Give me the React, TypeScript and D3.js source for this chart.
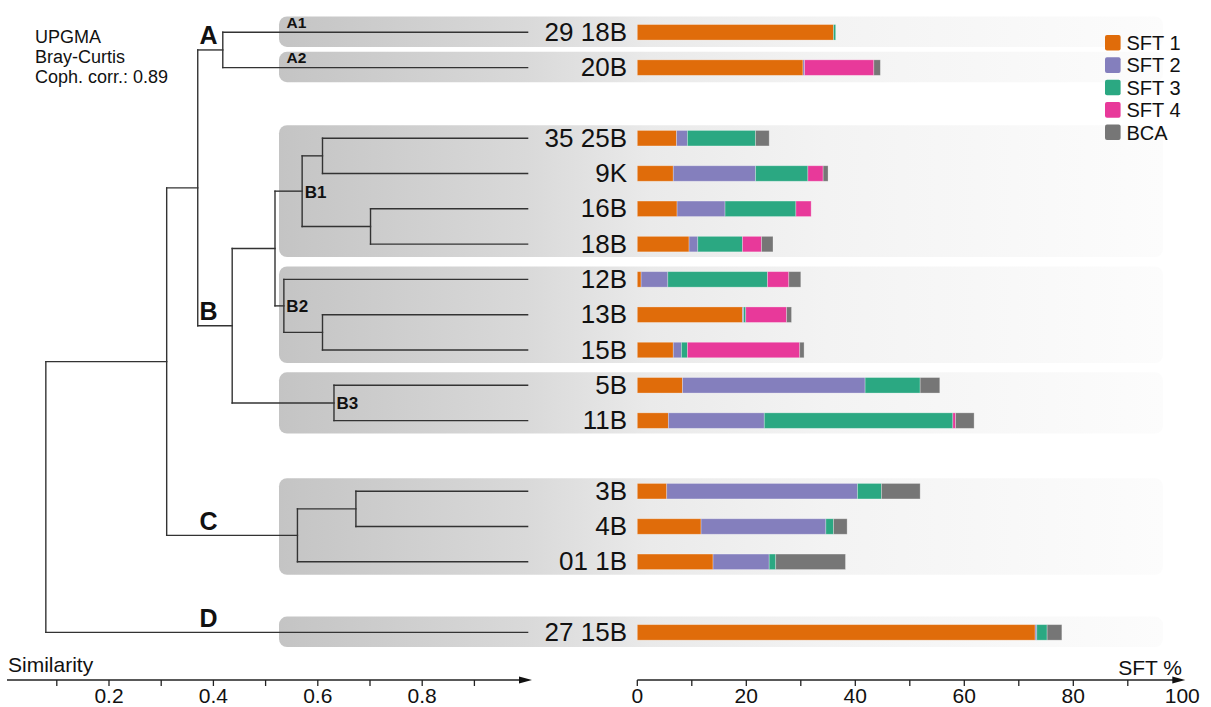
import React from "react";
import * as d3 from "d3";

const W = 1211;
const H = 707;
const FONT = "'Liberation Sans', Arial, Helvetica, sans-serif";

// clusters as drawn, top to bottom
const subgroups = [
  { name: "A1", top: "A", leaves: ["29 18B"] },
  { name: "A2", top: "A", leaves: ["20B"] },
  { name: "B1", top: "B", leaves: ["35 25B", "9K", "16B", "18B"] },
  { name: "B2", top: "B", leaves: ["12B", "13B", "15B"] },
  { name: "B3", top: "B", leaves: ["5B", "11B"] },
  { name: "C", top: "C", leaves: ["3B", "4B", "01 1B"] },
  { name: "D", top: "D", leaves: ["27 15B"] },
];

const series = ["SFT 1", "SFT 2", "SFT 3", "SFT 4", "BCA"];
const colors = ["#e06c0a", "#847fbd", "#2ba882", "#e8399a", "#767676"];

// % per leaf, same order as the leaves above
const sft1 = [36.0, 30.4, 7.2, 6.6, 7.3, 9.5, 0.7, 19.3, 6.6, 8.3, 5.7, 5.4, 11.7, 13.9, 73.0];
const sft2 = [0, 0.3, 2.0, 15.1, 8.8, 1.6, 4.9, 0.2, 1.5, 33.5, 17.6, 35.0, 22.9, 10.3, 0.3];
const sft3 = [0.4, 0, 12.5, 9.6, 13.0, 8.2, 18.3, 0.4, 1.1, 10.1, 34.6, 4.4, 1.4, 1.2, 1.9];
const sft4 = [0, 12.7, 0, 2.8, 2.8, 3.5, 3.9, 7.5, 20.6, 0, 0.5, 0, 0, 0, 0];
const bca = [0, 1.2, 2.5, 0.9, 0, 2.1, 2.2, 0.9, 0.8, 3.6, 3.4, 7.1, 2.5, 12.8, 2.7];

const simTicks = [0.1, 0.2, 0.3, 0.4, 0.5, 0.6, 0.7, 0.8, 0.9];
const simLabels = [0.2, 0.4, 0.6, 0.8];
const sftTicks = [0, 10, 20, 30, 40, 50, 60, 70, 80, 90];
const sftLabels = [0, 20, 40, 60, 80, 100];

const infoLines = ["UPGMA", "Bray-Curtis", "Coph. corr.: 0.89"];

type Node = { sim?: number; leaf?: string; top?: string; name?: string; children?: Node[] };

// UPGMA tree, node heights as similarity
const tree: Node = {
  sim: 0.079,
  children: [
    {
      sim: 0.3105,
      children: [
        {
          sim: 0.37,
          children: [
            { sim: 0.418, top: "A", children: [{ leaf: "29 18B" }, { leaf: "20B" }] },
            {
              sim: 0.436,
              top: "B",
              children: [
                {
                  sim: 0.518,
                  children: [
                    {
                      sim: 0.57,
                      name: "B1",
                      children: [
                        { sim: 0.609, children: [{ leaf: "35 25B" }, { leaf: "9K" }] },
                        { sim: 0.701, children: [{ leaf: "16B" }, { leaf: "18B" }] },
                      ],
                    },
                    {
                      sim: 0.535,
                      name: "B2",
                      children: [
                        { leaf: "12B" },
                        { sim: 0.609, children: [{ leaf: "13B" }, { leaf: "15B" }] },
                      ],
                    },
                  ],
                },
                { sim: 0.631, name: "B3", children: [{ leaf: "5B" }, { leaf: "11B" }] },
              ],
            },
          ],
        },
        {
          sim: 0.561,
          top: "C",
          children: [
            { sim: 0.673, children: [{ leaf: "3B" }, { leaf: "4B" }] },
            { leaf: "01 1B" },
          ],
        },
      ],
    },
    { leaf: "27 15B", top: "D" },
  ],
};

const leaves = subgroups.flatMap((g) => g.leaves);

// slot index per leaf, an empty slot between top level clusters
const slotOf: Record<string, number> = {};
{
  let s = 0;
  let prevTop = subgroups[0].top;
  subgroups.forEach((g) => {
    if (g.top !== prevTop) s += 1;
    prevTop = g.top;
    g.leaves.forEach((l) => {
      slotOf[l] = s;
      s += 1;
    });
  });
}
const nSlots = d3.max(Object.values(slotOf)) as number;

const simX = d3.scaleLinear().domain([0, 1]).range([4.6, 526.6]);
const sftX = d3.scaleLinear().domain([0, 100]).range([637.3, 1182.3]);
const rowY = d3.scaleLinear().domain([0, nSlots]).range([32.3, 632.4]);

const table = leaves.map((name, i) => ({
  name,
  "SFT 1": sft1[i],
  "SFT 2": sft2[i],
  "SFT 3": sft3[i],
  "SFT 4": sft4[i],
  BCA: bca[i],
}));
const stacked = d3.stack<any>().keys(series)(table);
const color = d3.scaleOrdinal<string, string>().domain(series).range(colors);

const App = () => {
  const root = d3.hierarchy<Node>(tree);
  const pos = new Map<any, { x: number; y: number }>();
  root.eachAfter((n) => {
    if (!n.children) {
      pos.set(n, { x: simX(1) + 1, y: rowY(slotOf[n.data.leaf as string]) });
    } else {
      const a = pos.get(n.children[0])!;
      const b = pos.get(n.children[n.children.length - 1])!;
      pos.set(n, { x: simX(n.data.sim as number), y: (a.y + b.y) / 2 });
    }
  });

  const segs: { x1: number; y1: number; x2: number; y2: number }[] = [];
  root.each((n) => {
    if (!n.children) return;
    const p = pos.get(n)!;
    const a = pos.get(n.children[0])!;
    const b = pos.get(n.children[n.children.length - 1])!;
    segs.push({ x1: p.x, y1: a.y, x2: p.x, y2: b.y });
    n.children.forEach((c) => {
      const q = pos.get(c)!;
      segs.push({ x1: p.x, y1: q.y, x2: q.x, y2: q.y });
    });
  });

  const topLabelX = 199.5;
  const topNodes = root.descendants().filter((n) => n.data.top);
  const namedNodes = root.descendants().filter((n) => n.data.name);

  const boxLeft = 279;
  const boxRight = 1163;
  const barH = 15.5;

  return (
    <svg
      width={W}
      height={H}
      style={{ position: "absolute", left: 0, top: 0, background: "#fff" }}
      fontFamily={FONT}
    >
      <defs>
        <linearGradient id="boxGrad" gradientUnits="userSpaceOnUse" x1={boxLeft} x2={boxRight} y1={0} y2={0}>
          <stop offset="0" stopColor="#c4c4c4" />
          <stop offset="0.28" stopColor="#d9d9d9" />
          <stop offset="0.42" stopColor="#eaeaea" />
          <stop offset="0.62" stopColor="#f3f3f3" />
          <stop offset="1" stopColor="#fcfcfc" />
        </linearGradient>
      </defs>

      {/* cluster boxes */}
      {subgroups.map((g) => {
        const y0 = rowY(slotOf[g.leaves[0]]);
        const y1 = rowY(slotOf[g.leaves[g.leaves.length - 1]]);
        const single = g.leaves.length === 1;
        const top = y0 - (single ? 15.8 : 13);
        const bot = y1 + (single ? 14.6 : 13);
        return (
          <rect
            key={g.name}
            x={boxLeft}
            y={top}
            width={boxRight - boxLeft}
            height={bot - top}
            rx={8}
            fill="url(#boxGrad)"
          />
        );
      })}

      {/* A1 / A2 labels */}
      {subgroups
        .filter((g) => g.leaves.length === 1 && g.name !== g.top)
        .map((g) => (
          <text
            key={g.name}
            x={boxLeft + 7.5}
            y={rowY(slotOf[g.leaves[0]]) - 4.4}
            fontSize={15.5}
            fontWeight="bold"
            fill="#111"
          >
            {g.name}
          </text>
        ))}

      {/* dendrogram */}
      <g stroke="#333" strokeWidth={1.4} strokeLinecap="square">
        {segs.map((s, i) => (
          <line key={i} x1={s.x1} y1={s.y1} x2={s.x2} y2={s.y2} />
        ))}
      </g>

      {topNodes.map((n) => (
        <text
          key={n.data.top}
          x={topLabelX}
          y={pos.get(n)!.y - 5.5}
          fontSize={25}
          fontWeight="bold"
          fill="#111"
        >
          {n.data.top}
        </text>
      ))}
      {namedNodes.map((n) => (
        <text
          key={n.data.name}
          x={pos.get(n)!.x + 2.5}
          y={pos.get(n)!.y + 6.5}
          fontSize={17}
          fontWeight="bold"
          fill="#111"
        >
          {n.data.name}
        </text>
      ))}

      {/* leaf labels */}
      {leaves.map((l) => (
        <text key={l} x={627} y={rowY(slotOf[l]) + 8.6} fontSize={26} textAnchor="end" fill="#111">
          {l}
        </text>
      ))}

      {/* stacked bars */}
      {stacked.map((layer) => (
        <g key={layer.key} fill={color(layer.key)}>
          {layer.map((d, i) =>
            d[1] - d[0] > 0 ? (
              <rect
                key={i}
                x={sftX(d[0])}
                y={rowY(slotOf[leaves[i]]) - barH / 2}
                width={sftX(d[1]) - sftX(d[0])}
                height={barH}
                stroke="rgba(255,255,255,0.35)"
                strokeWidth={0.8}
              />
            ) : null
          )}
        </g>
      ))}

      {/* info text */}
      {infoLines.map((t, i) => (
        <text key={t} x={35} y={43.3 + i * 19.7} fontSize={18} fill="#111">
          {t}
        </text>
      ))}

      {/* legend */}
      {series.map((s, i) => (
        <g key={s} transform={`translate(1105,${42.7 + i * 22.4})`}>
          <rect x={0} y={-7.8} width={15.6} height={15.6} rx={2} fill={color(s)} />
          <text x={21.5} y={0} dy="0.36em" fontSize={20} fill="#111">
            {s}
          </text>
        </g>
      ))}

      {/* similarity axis */}
      <g stroke="#222" strokeWidth={1.3}>
        <line x1={7} y1={680} x2={522} y2={680} />
        {simTicks.map((t) => (
          <line key={t} x1={simX(t)} y1={680} x2={simX(t)} y2={686} />
        ))}
      </g>
      <polygon points="519,676.5 532,680 519,683.5" fill="#111" />
      {simLabels.map((t) => (
        <text key={t} x={simX(t)} y={703} fontSize={21} textAnchor="middle" fill="#111">
          {d3.format(".1f")(t)}
        </text>
      ))}
      <text x={8} y={672} fontSize={21} fill="#111">
        Similarity
      </text>

      {/* SFT axis */}
      <g stroke="#222" strokeWidth={1.3}>
        <line x1={sftX(0)} y1={680} x2={sftX(100) - 6} y2={680} />
        {sftTicks.map((t) => (
          <line key={t} x1={sftX(t)} y1={680} x2={sftX(t)} y2={686} />
        ))}
      </g>
      <polygon
        points={`${sftX(100) - 10},676.5 ${sftX(100) + 3},680 ${sftX(100) - 10},683.5`}
        fill="#111"
      />
      {sftLabels.map((t) => (
        <text key={t} x={sftX(t)} y={703} fontSize={21} textAnchor="middle" fill="#111">
          {t}
        </text>
      ))}
      <text x={1182} y={675} fontSize={21} textAnchor="end" fill="#111">
        SFT %
      </text>
    </svg>
  );
};

export default App;
